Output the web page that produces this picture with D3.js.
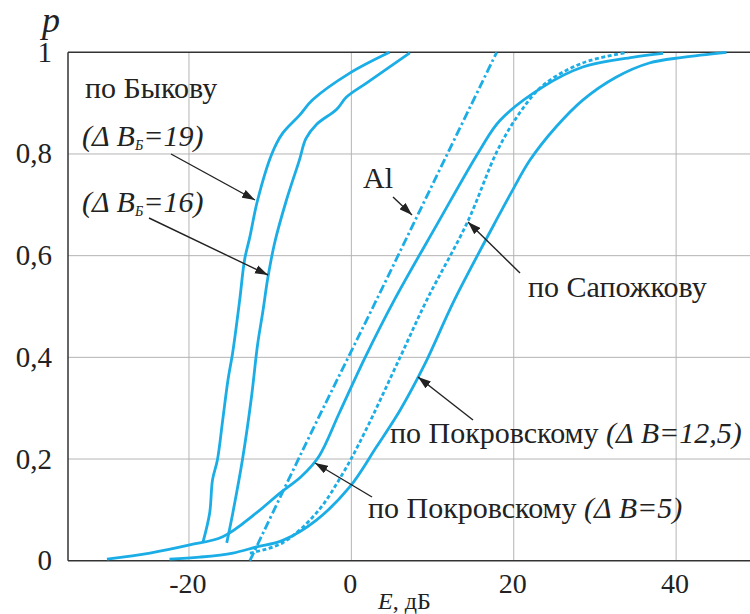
<!DOCTYPE html>
<meta charset="utf-8">
<script src="https://d3js.org/d3.v7.min.js"></script>
<style>
  body { margin: 0; background: #fff; }
</style>
<body>
<script>
// Data: [E, p]
const bykov19 = [[-18.3,0.035],[-17.45,0.094],[-17.1,0.159],[-16.5,0.198],[-15.85,0.276],[-15.2,0.355],
  [-14.6,0.411],[-13.75,0.513],[-13.15,0.592],[-12.5,0.637],[-11.55,0.709],[-9.8,0.80],[-8.5,0.84],
  [-6.4,0.876],[-4.8,0.906],[-0.2,0.959],[4.7,1.0]];
const bykov16 = [[-15.35,0.035],[-14.6,0.094],[-13.4,0.20],[-12.3,0.322],[-11.55,0.425],[-10.9,0.49],
  [-10.3,0.555],[-9.45,0.625],[-8.0,0.709],[-6.4,0.788],[-5.6,0.83],[-4.3,0.858],[-1.8,0.888],
  [-0.6,0.912],[1.9,0.94],[7.2,0.999]];
const alLine = [[-12.5,0],[-5,0.25],[2.7,0.5],[10.3,0.75],[17.9,1.0]];
const pokr5 = [[-30.1,0.003],[-24.8,0.015],[-19.9,0.031],[-15.85,0.047],[-11.7,0.094],[-8.8,0.133],
  [-6.2,0.165],[-4.0,0.205],[-1.5,0.29],[1.7,0.40],[5.3,0.513],[10.5,0.66],[15.8,0.807],[18.3,0.866],
  [23.6,0.932],[28.5,0.971],[34.6,0.99],[38.4,0.998]];
const sapozhkov = [[-12.5,0.015],[-8.5,0.035],[-4.3,0.094],[-1.0,0.173],[1.6,0.251],[6.0,0.40],
  [9.3,0.513],[14.3,0.666],[18.0,0.807],[20.7,0.88],[23.6,0.935],[28.5,0.979],[34.0,1.0]];
const pokr125 = [[-22.4,0.003],[-18.7,0.007],[-14.6,0.015],[-11.7,0.027],[-8.45,0.04],[-4.3,0.08],
  [-0.2,0.145],[3.1,0.224],[6.0,0.296],[9.0,0.385],[12.7,0.513],[18.3,0.683],[19.9,0.73],
  [22.0,0.788],[25.2,0.853],[28.5,0.906],[32.6,0.951],[36.7,0.979],[40.8,0.99],[46.2,1.0]];

const xTicks = [-20, 0, 20, 40];
const yTicks = [0, 0.2, 0.4, 0.6, 0.8, 1];

const W = 750, H = 614;
const margin = {top: 52.3, left: 68, right: 0, bottom: 53.3};
const blue = "#1badE6";
const ink = "#222";

const svg = d3.select("body").append("svg")
  .attr("width", W).attr("height", H);

const x = d3.scaleLinear().domain([-34.9, 49.1]).range([margin.left, W - margin.right]);
const y = d3.scaleLinear().domain([0, 1]).range([H - margin.bottom, margin.top]);

// serif text helper
function serif(sel, size) {
  return sel.attr("fill", ink).style("font-family", "\"Liberation Serif\"").style("font-size", size + "px");
}

// grid
svg.append("g").selectAll("line").data(xTicks).join("line")
  .attr("x1", d => x(d)).attr("x2", d => x(d))
  .attr("y1", y(0)).attr("y2", y(1))
  .attr("stroke", "#b4b4b4").attr("stroke-width", 1);
svg.append("g").selectAll("line").data(yTicks.filter(d => d > 0 && d < 1)).join("line")
  .attr("x1", x.range()[0]).attr("x2", x.range()[1])
  .attr("y1", d => y(d)).attr("y2", d => y(d))
  .attr("stroke", "#b4b4b4").attr("stroke-width", 1);

// frame
svg.append("line").attr("x1", x.range()[0]).attr("x2", x.range()[1]).attr("y1", y(1)).attr("y2", y(1))
  .attr("stroke", "#333").attr("stroke-width", 1.5);
svg.append("line").attr("x1", x.range()[0]).attr("x2", x.range()[1]).attr("y1", y(0)).attr("y2", y(0))
  .attr("stroke", "#333").attr("stroke-width", 1.5);
svg.append("line").attr("x1", x.range()[0]).attr("x2", x.range()[0]).attr("y1", y(0)).attr("y2", y(1))
  .attr("stroke", "#333").attr("stroke-width", 1.5);

// tick labels
serif(svg.append("g").selectAll("text").data(yTicks).join("text"), 29)
  .attr("x", 52).attr("y", d => y(d) + 9.5)
  .attr("text-anchor", "end")
  .text(d => d === 0 ? "0" : d === 1 ? "1" : String(d).replace(".", ","));
serif(svg.append("g").selectAll("text").data(xTicks).join("text"), 28)
  .attr("x", d => x(d) - 1).attr("y", 593)
  .attr("text-anchor", "middle")
  .text(d => String(d));

serif(svg.append("text"), 36).attr("x", 42).attr("y", 32)
  .style("font-style", "italic").text("p");
const xl = serif(svg.append("text"), 24).attr("x", 378).attr("y", 609);
xl.append("tspan").style("font-style", "italic").text("E");
xl.append("tspan").text(", дБ");

// curves
const line = d3.line().x(d => x(d[0])).y(d => y(d[1])).curve(d3.curveCatmullRom.alpha(0.5));
const curves = [
  {data: bykov19, dash: null},
  {data: bykov16, dash: null},
  {data: pokr5, dash: null},
  {data: pokr125, dash: null},
  {data: alLine, dash: "9,3,2.5,3"},
  {data: sapozhkov, dash: "4,2.5"}
];
svg.append("g").selectAll("path").data(curves).join("path")
  .attr("d", d => line(d.data))
  .attr("fill", "none")
  .attr("stroke", blue)
  .attr("stroke-width", 2.8)
  .attr("stroke-dasharray", d => d.dash);

// arrows
svg.append("defs").append("marker")
  .attr("id", "ah").attr("markerUnits", "userSpaceOnUse")
  .attr("viewBox", "0 0 12 8").attr("refX", 12).attr("refY", 4)
  .attr("markerWidth", 13).attr("markerHeight", 9).attr("orient", "auto")
  .append("path").attr("d", "M0,0 L12,4 L0,8 Z").attr("fill", ink);

const arrows = [
  [171, 154, 255, 200],
  [149, 218, 268, 275],
  [393, 197, 412, 215],
  [520, 273, 468, 222],
  [473, 420, 418, 377],
  [372, 497, 315, 463]
];
svg.append("g").selectAll("line").data(arrows).join("line")
  .attr("x1", d => d[0]).attr("y1", d => d[1]).attr("x2", d => d[2]).attr("y2", d => d[3])
  .attr("stroke", ink).attr("stroke-width", 1.4).attr("marker-end", "url(#ah)");

// labels
const fs = 30;
function label(xp, yp) {
  return serif(svg.append("text"), fs).attr("x", xp).attr("y", yp);
}
label(85, 98).text("по Быкову");
function deltaB(xp, yp, sub, val) {
  const t = label(xp, yp).style("font-style", "italic");
  t.append("tspan").text("(Δ B");
  t.append("tspan").attr("dy", 4).style("font-size", "14px").text(sub);
  t.append("tspan").attr("dy", -4).text("=" + val + ")");
  return t;
}
deltaB(82, 146, "Б", "19");
deltaB(82, 212, "Б", "16");
label(363, 188).text("Al");
label(528, 297).text("по Сапожкову");
const t1 = label(390, 443);
t1.append("tspan").text("по Покровскому ");
t1.append("tspan").style("font-style", "italic").text("(Δ B=12,5)");
const t2 = label(368, 518);
t2.append("tspan").text("по Покровскому ");
t2.append("tspan").style("font-style", "italic").text("(Δ B=5)");
</script>
</body>
</html>
